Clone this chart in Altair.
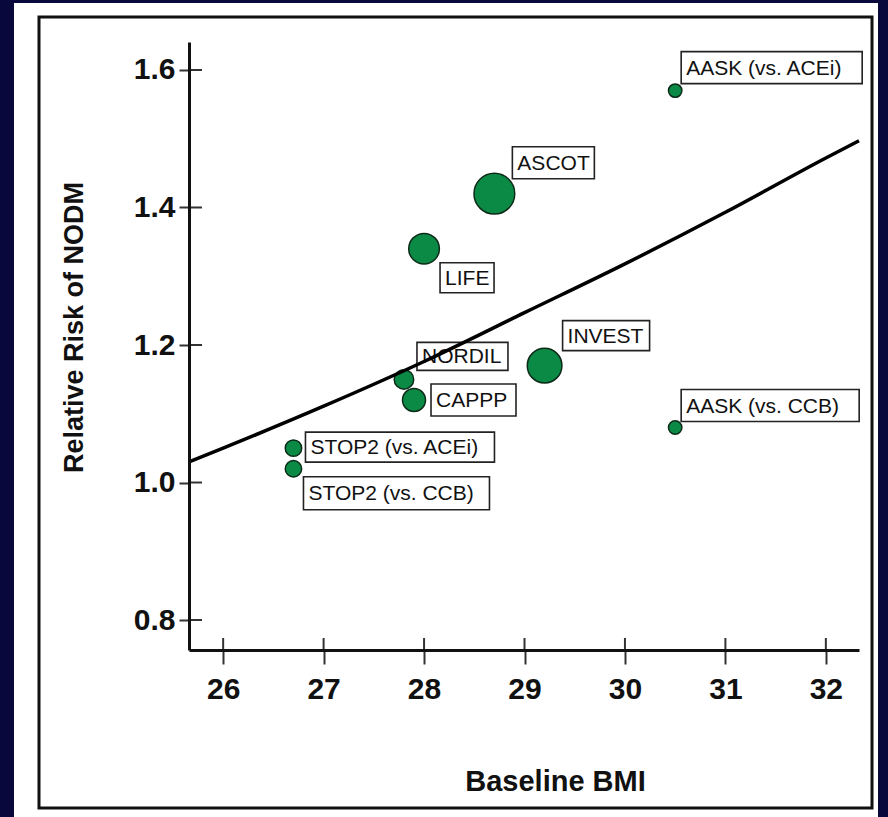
import altair as alt
import pandas as pd

# ---- data ----
studies = ["AASK (vs. ACEi)", "ASCOT", "LIFE", "NORDIL", "CAPPP", "INVEST",
           "AASK (vs. CCB)", "STOP2 (vs. ACEi)", "STOP2 (vs. CCB)"]
bmi = [30.5, 28.7, 28.0, 27.8, 27.9, 29.2, 30.5, 26.7, 26.7]
rr = [1.57, 1.42, 1.34, 1.15, 1.12, 1.17, 1.08, 1.05, 1.02]
weight = [1.8, 16.6, 9.4, 3.8, 5.3, 12.0, 1.8, 2.7, 2.7]

fit_bmi = [25.66, 26.0, 27.0, 28.0, 29.0, 30.0, 31.0, 32.0, 32.33]
fit_rr = [1.030, 1.050, 1.111, 1.176, 1.247, 1.318, 1.393, 1.472, 1.497]

x_ticks = [26, 27, 28, 29, 30, 31, 32]
y_ticks = [0.8, 1.0, 1.2, 1.4, 1.6]

# ---- layout (pixel offsets of label boxes relative to each point) ----
label_box = {
    "AASK (vs. ACEi)": (6, 187, -39, -7),
    "AASK (vs. CCB)": (6, 184, -38, -6),
    "ASCOT": (18, 100, -47, -15),
    "LIFE": (16, 70, 14, 44),
    "INVEST": (18, 105, -45, -15),
    "NORDIL": (13, 104, -37, -9),
    "CAPPP": (17, 102, -16, 16),
    "STOP2 (vs. ACEi)": (12, 201, -16, 14),
    "STOP2 (vs. CCB)": (10, 196, 8, 41),
}

W, H = 670, 608
FONT = "Liberation Sans, Arial, Helvetica, sans-serif"

df = pd.DataFrame({"study": studies, "bmi": bmi, "rr": rr, "weight": weight})
fit = pd.DataFrame({"bmi": fit_bmi, "rr": fit_rr})
xt = pd.DataFrame({"t": x_ticks})
yt = pd.DataFrame({"t": y_ticks})
one = pd.DataFrame({"a": [0]})

xs = alt.Scale(domain=[25.66, 32.33], nice=False, zero=False)
ys = alt.Scale(domain=[0.7564, 1.6407], nice=False, zero=False)

xaxis = alt.Axis(values=x_ticks, grid=False, tickSize=14, tickWidth=2, tickColor="#333",
                 domainColor="#111", domainWidth=3, labelFontSize=30, labelFontWeight="bold",
                 labelColor="#111", labelPadding=10, labelFont=FONT,
                 title="Baseline BMI", titleFont=FONT, titleFontSize=29, titleFontWeight="bold",
                 titleColor="#111", titleX=366, titleY=140, titleAlign="center",
                 titleBaseline="alphabetic", zindex=1)
yaxis = alt.Axis(values=y_ticks, format=".1f", grid=False, tickSize=10, tickWidth=2,
                 tickColor="#333", domainColor="#111", domainWidth=3, labelFontSize=30,
                 labelFontWeight="bold", labelColor="#111", labelPadding=4, labelFont=FONT,
                 title="Relative Risk of NODM", titleFont=FONT, titleFontSize=27,
                 titleFontWeight="bold", titleColor="#111", titleAngle=270, titleX=-107,
                 titleY=285, titleAlign="center", titleBaseline="alphabetic", zindex=1)


def X(f="bmi"):
    return alt.X(f"{f}:Q", scale=xs, axis=xaxis)


def Y(f="rr"):
    return alt.Y(f"{f}:Q", scale=ys, axis=yaxis)


# decorative white panel and black frame
panel = alt.Chart(one).mark_rect(fill="white").encode(
    x=alt.value(-175), x2=alt.value(689), y=alt.value(-39), y2=alt.value(775))
frame = alt.Chart(one).mark_rect(fill="white", stroke="#111", strokeWidth=3).encode(
    x=alt.value(-150), x2=alt.value(683), y=alt.value(-25), y2=alt.value(766))

layers = [panel, frame]

for s in studies:
    x0, x1, y0, y1 = label_box[s]
    b = alt.Chart(df).transform_filter(alt.datum.study == s)
    layers.append(b.mark_rect(fill="white", stroke="#222", strokeWidth=1.6,
                              xOffset=x0, x2Offset=x1, yOffset=y0, y2Offset=y1)
                  .encode(x=X(), x2="bmi", y=Y(), y2="rr"))
    layers.append(b.mark_text(align="left", baseline="middle", dx=x0 + 5,
                              dy=(y0 + y1) / 2 + 1, fontSize=21, font=FONT, color="#111")
                  .encode(x=X(), y=Y(), text="study:N"))

points = alt.Chart(df).mark_circle(opacity=1, color="#0b8a45", stroke="#0c2a18",
                                   strokeWidth=1.5).encode(
    x=X(), y=Y(),
    size=alt.Size("weight:Q", scale=alt.Scale(domain=[0, 20], range=[0, 2000]), legend=None))

line = alt.Chart(fit).mark_line(color="#000", strokeWidth=3.5, interpolate="monotone").encode(
    x=X(), y=Y())

xin = alt.Chart(xt).mark_rule(color="#333", strokeWidth=2).encode(
    x=X("t"), y=alt.value(H), y2=alt.value(H - 12))
yin = alt.Chart(yt).mark_rule(color="#333", strokeWidth=2).encode(
    y=Y("t"), x=alt.value(0), x2=alt.value(13))

layers += [points, line, xin, yin]

chart = alt.layer(*layers).properties(
    width=W, height=H,
    autosize=alt.AutoSizeParams(type="none"),
    padding={"left": 189, "top": 42, "right": 29, "bottom": 167},
    background="#08083c",
).configure_view(strokeWidth=0)

chart.save("out.html", embed_options={"renderer": "svg", "actions": False})
